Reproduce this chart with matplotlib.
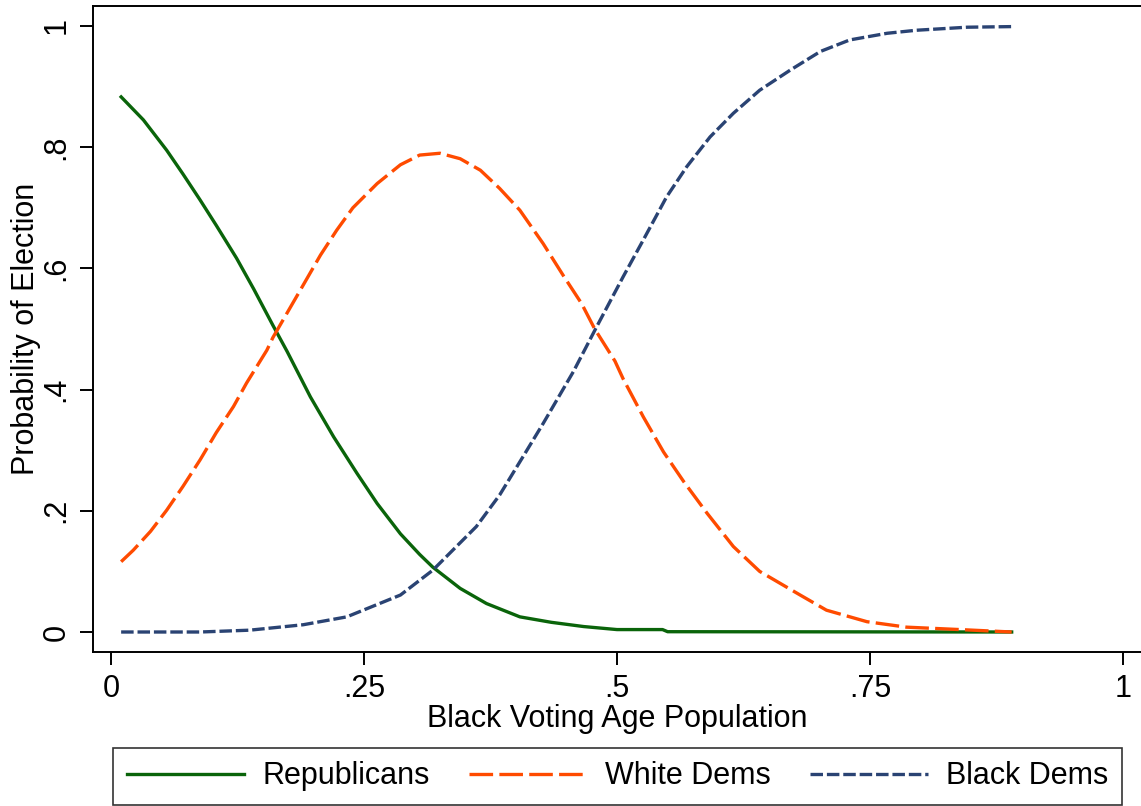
import numpy as np
import matplotlib
matplotlib.use("Agg")
import matplotlib.pyplot as plt

# ==== DATA ====
rep_x = [0.010, 0.032, 0.055, 0.071, 0.088, 0.104, 0.124, 0.141, 0.160, 0.174,
         0.197, 0.220, 0.243, 0.263, 0.286, 0.305, 0.318, 0.345, 0.371, 0.404,
         0.435, 0.467, 0.500, 0.545, 0.550, 0.890]
rep_y = [0.883, 0.845, 0.795, 0.756, 0.713, 0.671, 0.617, 0.566, 0.506, 0.463,
         0.388, 0.322, 0.262, 0.212, 0.162, 0.128, 0.107, 0.072, 0.047, 0.025,
         0.016, 0.009, 0.004, 0.004, 0.0005, 0.000]

wd_x = [0.010, 0.022, 0.039, 0.055, 0.071, 0.088, 0.104, 0.121, 0.134, 0.154,
        0.160, 0.187, 0.207, 0.223, 0.239, 0.263, 0.286, 0.305, 0.325, 0.345,
        0.365, 0.384, 0.404, 0.427, 0.447, 0.465, 0.478, 0.498, 0.506, 0.526,
        0.546, 0.566, 0.589, 0.615, 0.641, 0.681, 0.707, 0.747, 0.786, 0.839,
        0.890]
wd_y = [0.116, 0.135, 0.166, 0.201, 0.240, 0.284, 0.329, 0.372, 0.411, 0.465,
        0.486, 0.564, 0.622, 0.663, 0.700, 0.740, 0.771, 0.787, 0.790, 0.781,
        0.762, 0.732, 0.696, 0.641, 0.588, 0.542, 0.500, 0.447, 0.418, 0.355,
        0.297, 0.248, 0.196, 0.141, 0.100, 0.061, 0.036, 0.017, 0.008, 0.004,
        0.000]

bd_x = [0.010, 0.088, 0.137, 0.190, 0.233, 0.286, 0.318, 0.361, 0.384, 0.407,
        0.427, 0.457, 0.480, 0.506, 0.526, 0.549, 0.569, 0.592, 0.615, 0.641,
        0.671, 0.701, 0.730, 0.767, 0.796, 0.846, 0.890]
bd_y = [0.000, 0.000, 0.003, 0.012, 0.025, 0.061, 0.102, 0.174, 0.226, 0.289,
        0.344, 0.430, 0.504, 0.586, 0.647, 0.718, 0.768, 0.817, 0.856, 0.894,
        0.927, 0.958, 0.977, 0.988, 0.993, 0.998, 0.999]

x_ticks = [0, 0.25, 0.5, 0.75, 1]
x_ticklabels = ["0", ".25", ".5", ".75", "1"]
y_ticks = [0, 0.2, 0.4, 0.6, 0.8, 1]
y_ticklabels = ["0", ".2", ".4", ".6", ".8", "1"]

# ==== STYLE ====
plt.rcParams["font.family"] = ["Liberation Sans", "DejaVu Sans"]
plt.rcParams["lines.scale_dashes"] = False
FS = 22

GREEN = "#0a640a"
ORANGE = "#ff4b00"
NAVY = "#2a4373"

fig = plt.figure(figsize=(11.41, 8.06), dpi=100)
ax = fig.add_axes([93 / 1141, 154 / 806, 1048 / 1141, 646 / 806])

ax.plot(rep_x, rep_y, color=GREEN, lw=2.4, label="Republicans")
ax.plot(wd_x, wd_y, color=ORANGE, lw=2.4, dashes=(17, 4.5), label="White Dems")
ax.plot(bd_x, bd_y, color=NAVY, lw=2.4, dashes=(9, 2.8), label="Black Dems")

ax.set_xlim(-0.0178, 1.0178)
ax.set_ylim(-0.033, 1.033)
ax.set_xticks(x_ticks)
ax.set_xticklabels(x_ticklabels, fontsize=FS)
ax.set_yticks(y_ticks)
ax.set_yticklabels(y_ticklabels, fontsize=FS, rotation=90, va="center")
ax.tick_params(axis="x", direction="out", length=9.5, width=1.4, pad=6)
ax.tick_params(axis="y", direction="out", length=9.5, width=1.4, pad=6)
ax.set_xlabel("Black Voting Age Population", fontsize=FS, labelpad=0)
ax.set_ylabel("Probability of Election", fontsize=FS, labelpad=0)

for side in ["left", "bottom", "top"]:
    ax.spines[side].set_linewidth(1.4)
ax.spines["right"].set_visible(False)

leg = fig.legend(
    loc="lower left",
    bbox_to_anchor=(113 / 1141, 1 / 806, 1009 / 1141, 57 / 806),
    mode="expand",
    ncol=3,
    fontsize=FS,
    frameon=True,
    fancybox=False,
    handlelength=3.85,
    handletextpad=0.6,
    borderaxespad=0,
    borderpad=0.45,
)
leg.get_frame().set_edgecolor("black")
leg.get_frame().set_linewidth(1.2)

fig.savefig("out.png", dpi=100)
